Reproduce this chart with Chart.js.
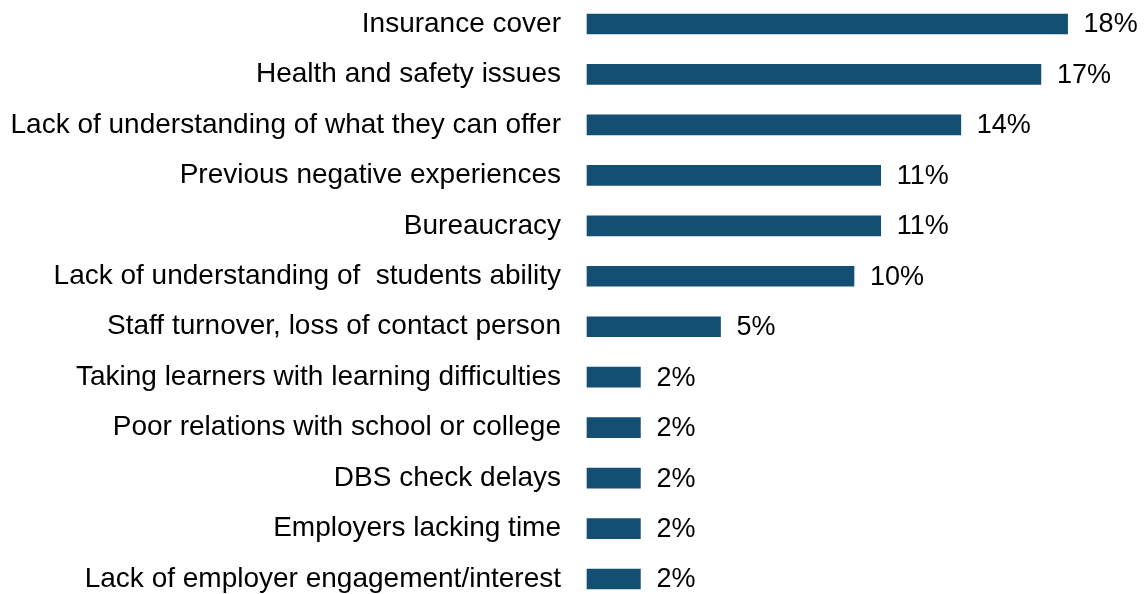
<!DOCTYPE html>
<html>
<head>
<meta charset="utf-8">
<script src="https://cdn.jsdelivr.net/npm/chart.js@4"></script>
<style>
  html, body { margin: 0; padding: 0; background: #fff; }
  #wrap { width: 1148px; height: 594px; position: relative; }
</style>
</head>
<body>
<div id="wrap"><canvas id="barriers-chart"></canvas></div>
<script>
const categories = [
    'Insurance cover',
    'Health and safety issues',
    'Lack of understanding of what they can offer',
    'Previous negative experiences',
    'Bureaucracy',
    'Lack of understanding of  students ability',
    'Staff turnover, loss of contact person',
    'Taking learners with learning difficulties',
    'Poor relations with school or college',
    'DBS check delays',
    'Employers lacking time',
    'Lack of employer engagement/interest'
];
const values = [18, 17, 14, 11, 11, 10, 5, 2, 2, 2, 2, 2];

// draws the "18%" style labels at the end of each bar
const valueLabels = {
    id: 'valueLabels',
    afterDatasetsDraw(chart) {
        const ctx = chart.ctx;
        const meta = chart.getDatasetMeta(0);
        ctx.save();
        ctx.font = '27px "Liberation Sans", Arial, sans-serif';
        ctx.fillStyle = '#000';
        ctx.textAlign = 'left';
        ctx.textBaseline = 'middle';
        meta.data.forEach((bar, i) => {
            ctx.fillText(values[i] + '%', bar.x + 16, bar.y + 1);
        });
        ctx.restore();
    }
};

document.addEventListener('DOMContentLoaded', function () {
    const ctx = document.getElementById('barriers-chart').getContext('2d');
    new Chart(ctx, {
        type: 'bar',
        data: {
            labels: categories,
            datasets: [{
                data: values,
                backgroundColor: '#124f73',
                barThickness: 20,
                clip: false
            }]
        },
        options: {
            responsive: true,
            maintainAspectRatio: false,
            animation: false,
            indexAxis: 'y',
            layout: {
                padding: { top: 24, bottom: 15, left: 0, right: 27 }
            },
            scales: {
                x: {
                    display: false,
                    min: 0,
                    max: 20
                },
                y: {
                    offset: false,
                    grid: { display: false },
                    border: { display: false },
                    ticks: {
                        padding: 18,
                        color: '#000',
                        font: { family: '"Liberation Sans", Arial, sans-serif', size: 28 }
                    },
                    afterFit(scale) {
                        scale.width = 587;
                        scale.paddingTop = 0;
                        scale.paddingBottom = 0;
                    }
                }
            },
            plugins: {
                legend: { display: false },
                tooltip: { enabled: false }
            }
        },
        plugins: [valueLabels]
    });
});
</script>
</body>
</html>
